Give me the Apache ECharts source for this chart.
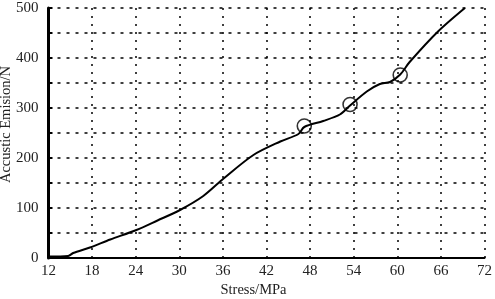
<!DOCTYPE html>
<html>
<head>
<meta charset="utf-8">
<script src="https://cdn.jsdelivr.net/npm/echarts@6/dist/echarts.min.js"></script>
<style>
  html, body { margin: 0; padding: 0; background: #fff; }
  #chart { width: 495px; height: 299px; }
</style>
</head>
<body>
<div id="chart"></div>
<script>
// stress (MPa) vs acoustic emission (N)
const stress = [12, 14.7, 15.4, 17.7, 20.5, 24.1, 27, 30.1, 33.3, 36.1, 40.2, 43.9, 46.4, 47.2, 49.8, 52.1, 53.5, 55.8, 57.6, 59.0, 60.4, 61.7, 65.6, 69.3];
const emission = [3, 4, 10, 21, 37, 56, 75, 96, 124, 159, 206, 233, 248, 262, 274, 287, 305, 333, 348, 352, 367, 392, 453, 500];

// marked points (circles)
const markStress = [47.2, 53.5, 60.4];
const markEmission = [264, 307, 366];

const xTicks = [12, 18, 24, 30, 36, 42, 48, 54, 60, 66, 72];
const yTicks = [0, 100, 200, 300, 400, 500];

const chart = echarts.init(document.getElementById('chart'));

const font = 'Liberation Serif';

const option = {
  animation: false,
  grid: { left: 48.5, right: 10.5, top: 8, bottom: 41, outerBoundsMode: 'none' },
  xAxis: {
    type: 'value',
    min: xTicks[0],
    max: xTicks[xTicks.length - 1],
    interval: 6,
    name: 'Stress/MPa',
    nameLocation: 'middle',
    nameGap: 25,
    nameMoveOverlap: false,
    nameTextStyle: { fontFamily: font, fontSize: 14.5, color: '#222', padding: [0, 0, 0, -26] },
    axisLine: { lineStyle: { color: '#000', width: 2 } },
    axisTick: { show: false },
    axisLabel: { fontFamily: font, fontSize: 15, color: '#222', margin: 6 },
    splitLine: { show: true, lineStyle: { color: '#000', width: 1.5, type: [2, 6] } }
  },
  yAxis: {
    type: 'value',
    min: yTicks[0],
    max: yTicks[yTicks.length - 1],
    interval: 50,
    name: 'Accustic Emision/N',
    nameLocation: 'middle',
    nameGap: 35,
    nameMoveOverlap: false,
    nameTextStyle: { fontFamily: font, fontSize: 14.5, color: '#222', padding: [0, 0, 0, 17] },
    axisLine: { show: true, lineStyle: { color: '#000', width: 3 } },
    axisTick: { show: true, inside: true, length: 4, lineStyle: { color: '#000', width: 2 } },
    axisLabel: {
      fontFamily: font, fontSize: 15, color: '#222', margin: 10,
      formatter: v => (yTicks.indexOf(v) >= 0 ? String(v) : '')
    },
    splitLine: { show: true, lineStyle: { color: '#000', width: 1.5, type: [3, 6] } }
  },
  series: [
    {
      type: 'line',
      data: stress.map((s, i) => [s, emission[i]]),
      smooth: 0.3,
      symbol: 'none',
      lineStyle: { color: '#000', width: 2 }
    },
    {
      type: 'scatter',
      data: markStress.map((s, i) => [s, markEmission[i]]),
      symbol: 'circle',
      symbolSize: 14,
      itemStyle: { color: 'rgba(0,0,0,0)', borderColor: '#000', borderWidth: 1.6 },
      z: 3
    }
  ]
};

chart.setOption(option);
</script>
</body>
</html>
